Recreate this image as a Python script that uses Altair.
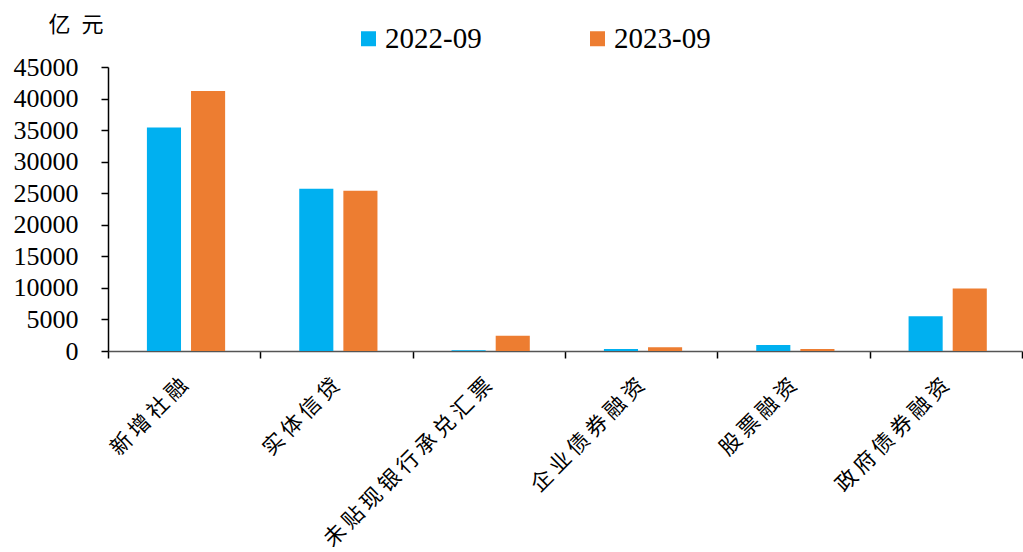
import altair as alt
import pandas as pd

# Social financing components, 100 million yuan
categories = ["新增社融", "实体信贷", "未贴现银行承兑汇票", "企业债券融资", "股票融资", "政府债券融资"]
series = ["2022-09", "2023-09"]
values_2022 = [35400, 25700, 100, 300, 950, 5500]
values_2023 = [41200, 25400, 2400, 600, 300, 9900]
y_ticks = list(range(0, 45001, 5000))

rows = []
for c, a, b in zip(categories, values_2022, values_2023):
    rows.append({"类别": c, "期间": series[0], "值": a})
    rows.append({"类别": c, "期间": series[1], "值": b})
df = pd.DataFrame(rows)

num_font = "Liberation Serif, Times New Roman, serif"
cjk_font = "Noto Sans CJK SC"

chart = alt.Chart(df).mark_bar().encode(
    x=alt.X("类别:N", sort=categories,
            scale=alt.Scale(paddingInner=0, paddingOuter=0),
            axis=alt.Axis(title=None, labelAngle=-45, labelAlign="right",
                          labelBaseline="middle", labelFont=cjk_font,
                          labelFontSize=21.5, labelColor="#000",
                          # widen the character spacing of category names
                          labelExpr="join(split(datum.label, ''), '\u2009')",
                          labelPadding=24, tickBand="extent", tickSize=7,
                          tickColor="#000", domainColor="#555",
                          domainWidth=1.5, tickWidth=1.5, labelLimit=500)),
    xOffset=alt.XOffset("期间:N", sort=series,
                        scale=alt.Scale(paddingInner=0.227, paddingOuter=0.84,
                                        align=0.525)),
    y=alt.Y("值:Q", scale=alt.Scale(domain=[0, 45000], nice=False),
            axis=alt.Axis(values=y_ticks, format="d", grid=False,
                          title="亿\u2002元", titleAngle=0, titleAlign="left",
                          titleBaseline="middle", titleX=-60, titleY=-43,
                          titleFont=cjk_font, titleFontSize=22,
                          titleFontWeight="normal", titleColor="#000",
                          labelFont=num_font, labelFontSize=26,
                          labelColor="#000", labelPadding=23, tickSize=7,
                          tickColor="#000", domainColor="#000",
                          domainWidth=1.5, tickWidth=1.5)),
    color=alt.Color("期间:N", sort=series,
                    scale=alt.Scale(domain=series, range=["#00B0F0", "#ED7D31"]),
                    legend=alt.Legend(title=None, orient="none", direction="horizontal",
                                      legendX=246, legendY=-43,
                                      symbolType="square", symbolSize=225,
                                      symbolStrokeWidth=0, symbolOpacity=1,
                                      labelFont=num_font, labelFontSize=29,
                                      labelColor="#000", labelOffset=2,
                                      columnPadding=101)),
).properties(
    width=914, height=284,
    padding={"left": 108, "top": 67, "right": 1, "bottom": 201},
    autosize=alt.AutoSizeParams(type="none"),
).configure(
    background="white",
    view=alt.ViewConfig(stroke=None),
)

chart.save("out.html", embed_options={"renderer": "svg", "actions": False})
